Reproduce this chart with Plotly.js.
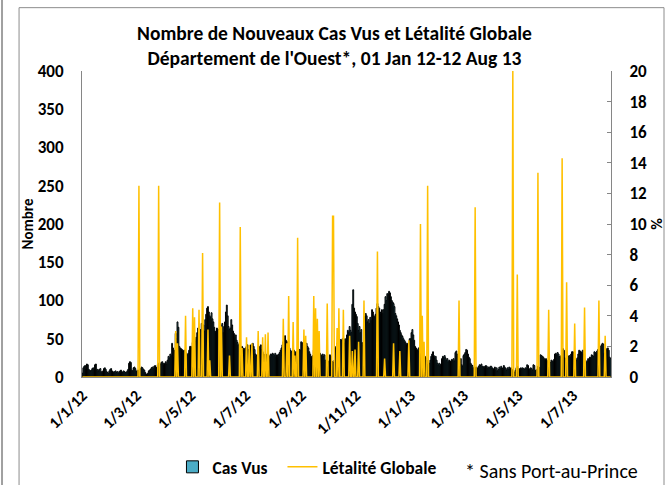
<!DOCTYPE html>
<html><head><meta charset="utf-8">
<script src="https://cdn.plot.ly/plotly-3.0.1.min.js"></script>
<style>html,body{margin:0;padding:0;background:#fff;} #chart{width:669px;height:485px;}</style>
</head><body><div id="chart"></div>
<script>
// Daily "Cas Vus" (new cases seen), 1 Jan 2012 - 12 Aug 2013, one line per month
const startDate = [2012, 0, 1];
const casVus2012 = [
  5,12,14,15,11,17,16,10,9,8,9,11,12,10,16,17,9,10,8,10,11,7,6,8,11,12,10,7,6,5,8,
  10,11,8,7,6,7,8,6,7,5,7,8,9,7,6,8,7,6,6,8,10,18,20,19,9,8,12,13,11,
  8,7,9,8,10,11,13,12,10,9,6,4,3,5,8,9,10,12,13,11,14,15,13,12,16,18,14,17,19,20,18,
  16,18,20,17,22,27,25,30,28,44,38,27,35,57,50,72,65,40,38,37,36,35,34,35,33,30,29,31,35,40,
  40,38,45,42,50,47,52,58,64,50,55,62,70,66,68,60,75,82,90,92,85,80,78,84,76,72,65,60,58,64,62,
  62,55,68,60,70,58,66,72,85,94,80,66,62,64,75,68,60,57,52,55,48,45,42,40,38,36,40,38,35,37,
  38,40,42,36,35,40,42,38,44,40,36,30,28,29,31,40,38,42,36,33,30,29,27,28,30,32,28,26,30,29,31,
  30,28,31,27,29,26,30,32,35,38,42,46,50,54,48,44,46,42,38,35,33,34,32,35,31,33,30,34,32,36,35,
  46,45,40,38,41,42,44,40,38,33,30,27,26,28,35,34,36,33,29,30,28,31,29,28,30,27,29,22,20,19,
  21,20,29,27,21,20,19,22,38,40,44,46,48,47,49,48,50,46,44,50,47,55,61,58,66,61,58,95,114,90,85,
  82,79,70,61,66,58,62,45,42,48,79,83,80,72,75,70,78,74,88,85,80,78,82,90,96,92,90,85,83,88,
  83,88,95,105,100,109,108,112,110,105,100,98,96,92,83,80,76,72,68,61,58,55,53,50,48,46,44,42,44,40,50
];
const casVus2013 = [
  50,58,62,55,48,40,38,36,35,38,34,32,30,29,28,29,27,25,22,16,14,18,22,27,30,33,28,25,27,22,18,
  16,18,15,17,24,27,26,28,25,22,24,20,22,21,20,23,22,24,21,32,34,30,28,22,20,24,16,14,
  28,30,32,36,35,30,26,24,18,16,15,12,10,11,13,10,12,14,16,15,17,14,13,14,12,15,14,11,13,12,14,
  14,12,10,11,13,9,12,8,10,13,11,14,12,10,15,13,11,9,12,10,13,11,12,10,8,7,6,9,12,14,
  10,11,9,12,10,12,11,10,12,11,16,15,11,10,12,11,9,16,15,9,8,10,14,13,12,29,28,27,26,24,22,
  24,22,20,18,17,19,22,21,20,23,30,31,29,32,30,27,26,28,30,37,35,25,24,23,26,27,28,26,30,33,
  33,32,26,24,22,25,30,35,34,33,32,35,30,20,22,19,21,24,23,26,25,29,28,27,33,32,31,34,36,37,38,
  40,42,44,43,31,30,37,36,38,35,26,24
];
// Létalité Globale (%): days with a non-zero value (all other days are 0)
const letaliteDates = ['2012-03-04','2012-03-26','2012-04-14','2012-04-16','2012-04-25','2012-05-03','2012-05-05','2012-05-10','2012-05-14','2012-05-20','2012-05-22','2012-06-02','2012-06-04','2012-06-13','2012-06-25','2012-06-27','2012-07-02','2012-07-05','2012-07-08','2012-07-15','2012-07-20','2012-07-23','2012-07-26','2012-08-12','2012-08-16','2012-08-18','2012-08-23','2012-08-25','2012-08-28','2012-09-04','2012-09-06','2012-09-15','2012-09-17','2012-09-19','2012-09-21','2012-09-30','2012-10-06','2012-10-07','2012-10-11','2012-10-13','2012-10-18','2012-10-25','2012-10-28','2012-10-31','2012-11-04','2012-11-10','2012-11-25','2012-12-03','2012-12-13','2012-12-20','2012-12-30','2013-01-12','2013-01-14','2013-01-16','2013-01-20','2013-02-24','2013-03-14','2013-04-25','2013-04-30','2013-05-23','2013-06-04','2013-06-19','2013-06-24','2013-07-03','2013-07-14','2013-07-30','2013-08-06'];
const letaliteValues = [12.5,12.5,3.0,2.2,4.0,4.5,3.9,4.4,8.1,3.1,1.1,11.4,3.3,1.4,9.8,1.9,2.6,2.1,2.2,3.0,2.6,2.8,2.9,3.8,2.2,5.3,3.6,1.4,9.1,3.1,2.7,5.3,4.5,3.8,3.0,4.8,10.5,10.5,3.2,4.5,4.4,2.7,1.7,1.8,2.3,5.0,8.2,1.2,2.2,1.7,2.4,10.0,4.0,2.3,12.5,5.0,11.1,20.0,6.7,13.35,4.4,14.3,6.2,3.5,4.55,5.0,2.7];

const xTickVals = ['2012-01-01','2012-03-01','2012-05-01','2012-07-01','2012-09-01','2012-11-01','2013-01-01','2013-03-01','2013-05-01','2013-07-01'];
const xTickText = ['1/1/12','1/3/12','1/5/12','1/7/12','1/9/12','1/11/12','1/1/13','1/3/13','1/5/13','1/7/13'];
const yTickVals = [0,50,100,150,200,250,300,350,400];
const y2TickVals = [0,2,4,6,8,10,12,14,16,18,20];

// ---- build traces ----
const casVus = casVus2012.concat(casVus2013);
function iso(d){ return d.toISOString().slice(0,10); }
const days = casVus.map((_, i) => iso(new Date(Date.UTC(startDate[0], startDate[1], startDate[2] + i))));
const letMap = {};
letaliteDates.forEach((d, i) => { letMap[d] = letaliteValues[i]; });
const letalite = days.map(d => (d in letMap ? letMap[d] : 0));

const FONT = 'Carlito, Lato, "Open Sans", sans-serif';
const GRAY = '#868686';
const BOLD = (size) => ({ family: FONT, size: size, color: '#000000', weight: 'bold' });

const traces = [
  { type: 'bar', name: 'Cas Vus', x: days, y: casVus, yaxis: 'y', legendwidth: 65,
    marker: { color: '#4BACC6', line: { color: '#000000', width: 1 } } },
  { type: 'scatter', mode: 'lines', name: 'Létalité Globale', x: days, y: letalite, yaxis: 'y2',
    legendwidth: 125, line: { color: '#FFC000', width: 1.5 } }
];

const layout = {
  width: 669, height: 485,
  margin: { l: 82, r: 58, t: 71, b: 108, autoexpand: false },
  paper_bgcolor: '#ffffff', plot_bgcolor: '#ffffff',
  font: { family: FONT, color: '#000000', size: 13 },
  showlegend: true,
  bargap: 0,
  title: {
    text: 'Nombre de Nouveaux Cas Vus et Létalité Globale<br>Département de l\'Ouest*, 01 Jan 12-12 Aug 13',
    x: 0.5, xref: 'container', y: 0.918, yref: 'container', yanchor: 'middle',
    font: BOLD(19.5)
  },
  xaxis: {
    type: 'date', range: ['2011-12-31 12:00', '2013-08-12 12:00'],
    tickmode: 'array', tickvals: xTickVals, ticktext: xTickText, tickangle: -45,
    tickfont: BOLD(16), automargin: false,
    showline: true, linecolor: GRAY, linewidth: 1, showgrid: false, zeroline: false,
    ticks: '', ticklabelstandoff: 2, fixedrange: true
  },
  yaxis: {
    range: [0, 400], tickmode: 'array', tickvals: yTickVals, automargin: false,
    tickfont: BOLD(17),
    showline: true, linecolor: GRAY, linewidth: 1, showgrid: false, zeroline: false,
    ticks: '', ticklabelstandoff: 14,
    title: { text: 'Nombre', font: BOLD(15), standoff: 0 }
  },
  yaxis2: {
    overlaying: 'y', side: 'right', range: [0, 20], tickmode: 'array', tickvals: y2TickVals,
    tickfont: BOLD(17), automargin: false,
    showline: true, linecolor: GRAY, linewidth: 1, showgrid: false, zeroline: false,
    ticks: 'inside', ticklen: 4, tickcolor: GRAY, ticklabelstandoff: 14,
    title: { text: '%', font: BOLD(16), standoff: 0 }
  },
  legend: {
    orientation: 'h', x: 0.171, xanchor: 'left', y: -0.294, yanchor: 'middle',
    font: BOLD(17.5), bgcolor: 'rgba(0,0,0,0)',
    traceorder: 'normal'
  },
  annotations: [{
    text: '* Sans Port-au-Prince', xref: 'paper', yref: 'paper',
    x: 0.72, y: -0.262, xanchor: 'left', yanchor: 'top', showarrow: false,
    font: { family: FONT, size: 20, color: '#000' }
  }],
  shapes: [
    { type: 'rect', xref: 'paper', yref: 'paper', x0: -0.119, x1: 1.1002, y0: -0.45, y1: 1.207,
      line: { color: '#8c8c8c', width: 1 }, fillcolor: 'rgba(0,0,0,0)', layer: 'below' },
    { type: 'line', xref: 'paper', yref: 'paper', x0: -0.1512, x1: -0.1512, y0: -0.45, y1: 1.35,
      line: { color: '#a0a0a0', width: 2 } }
  ]
};

Plotly.newPlot('chart', traces, layout, { staticPlot: true, displayModeBar: false });
</script>
</body></html>
